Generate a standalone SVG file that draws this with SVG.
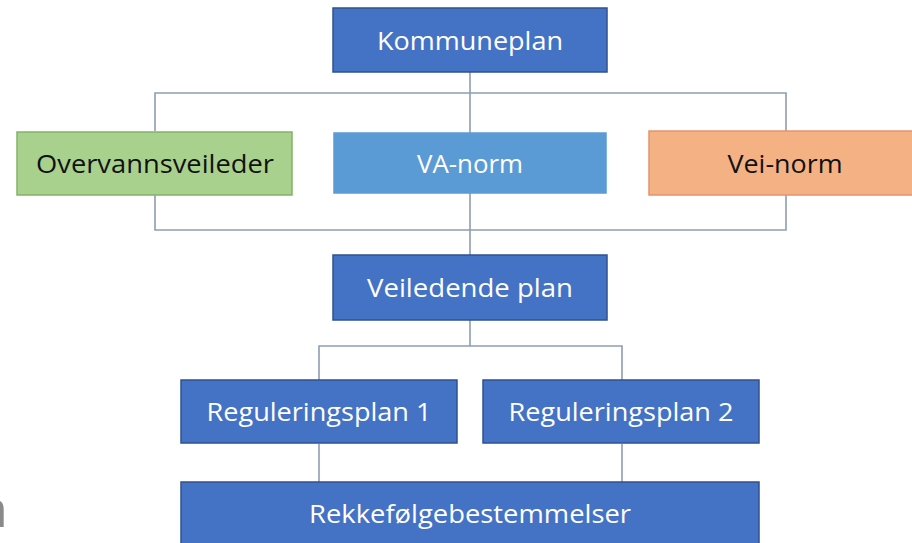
<svg xmlns="http://www.w3.org/2000/svg" width="912" height="543" viewBox="0 0 912 543">
<style>
.t{font-family:"Open Sans","Liberation Sans",sans-serif;font-size:26px;text-anchor:middle}
.w{fill:#ffffff}
.k{fill:#111111}
.blue{fill:#4472C4;stroke:#2F528F;stroke-width:1.5}
.green{fill:#A9D18E;stroke:#82B366;stroke-width:1.5}
.lblue{fill:#5B9BD5;stroke:#5B9BD5;stroke-width:1.5}
.orange{fill:#F4B183;stroke:#E5946A;stroke-width:1.5}
.c{fill:none;stroke:#8E9DB3;stroke-width:1.6}
</style>
<rect width="912" height="543" fill="#ffffff"/>
<g id="connectors">
<path class="c" d="M470 72V255"/>
<path class="c" d="M155 131V93H786V131"/>
<path class="c" d="M155 195V230H786V195"/>
<path class="c" d="M470 320V346"/>
<path class="c" d="M319 380V346H622V380"/>
<path class="c" d="M319 444V482"/>
<path class="c" d="M622 444V482"/>
</g>
<g id="kommuneplan">
<rect class="blue" x="333" y="8" width="274" height="64"/>
<text class="t w" x="470" y="50" textLength="186" lengthAdjust="spacingAndGlyphs">Kommuneplan</text>
</g>
<g id="overvannsveileder">
<rect class="green" x="17" y="132" width="275" height="63"/>
<text class="t k" x="155" y="173" textLength="238" lengthAdjust="spacingAndGlyphs">Overvannsveileder</text>
</g>
<g id="va-norm">
<rect class="lblue" x="334" y="133" width="272" height="60"/>
<text class="t w" x="470" y="173" textLength="106" lengthAdjust="spacingAndGlyphs">VA-norm</text>
</g>
<g id="vei-norm">
<rect class="orange" x="649" y="131" width="270" height="64"/>
<text class="t k" x="785" y="173" textLength="115" lengthAdjust="spacingAndGlyphs">Vei-norm</text>
</g>
<g id="veiledende-plan">
<rect class="blue" x="333" y="255" width="274" height="65"/>
<text class="t w" x="470" y="297" textLength="206" lengthAdjust="spacingAndGlyphs">Veiledende plan</text>
</g>
<g id="reguleringsplan-1">
<rect class="blue" x="181" y="380" width="276" height="63"/>
<text class="t w" x="319" y="421" textLength="225" lengthAdjust="spacingAndGlyphs">Reguleringsplan 1</text>
</g>
<g id="reguleringsplan-2">
<rect class="blue" x="483" y="380" width="276" height="63"/>
<text class="t w" x="621" y="421" textLength="225" lengthAdjust="spacingAndGlyphs">Reguleringsplan 2</text>
</g>
<g id="rekkefolgebestemmelser">
<rect class="blue" x="181" y="482" width="578" height="80"/>
<text class="t w" x="470" y="523" textLength="322" lengthAdjust="spacingAndGlyphs">Rekkefølgebestemmelser</text>
</g>
<text x="-24" y="527" font-family="Open Sans, sans-serif" font-size="52" fill="#8a8a8a">n</text>
</svg>
